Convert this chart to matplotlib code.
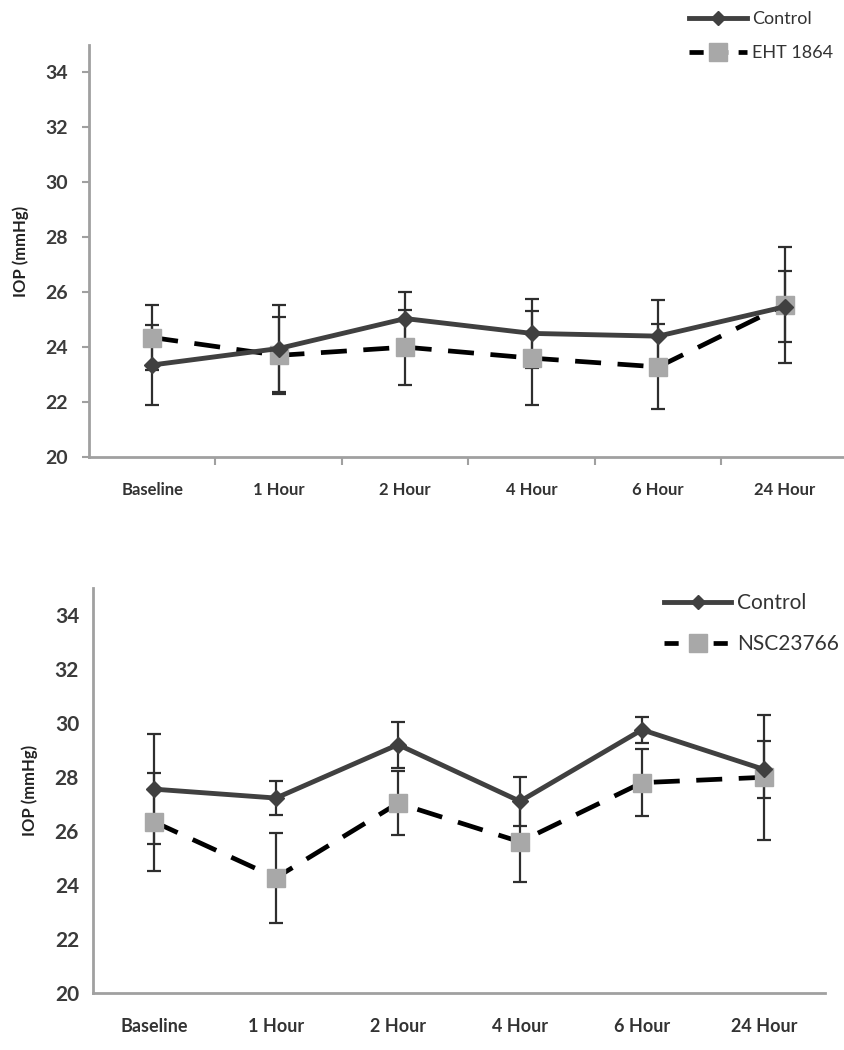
import matplotlib
matplotlib.use('Agg')
import matplotlib.pyplot as plt
from matplotlib.lines import Line2D

plt.rcParams['font.family'] = ['Lato', 'DejaVu Sans']

# category labels
timepoints = ['Baseline', '1 Hour', '2 Hour', '4 Hour', '6 Hour', '24 Hour']

# top panel: Control vs EHT 1864
ctrl_top = [23.35, 23.95, 25.04, 24.5, 24.4, 25.47]
ctrl_top_err = [1.47, 1.6, 0.95, 1.26, 1.3, 1.3]
eht = [24.35, 23.7, 24.0, 23.6, 23.28, 25.54]
eht_err = [1.17, 1.4, 1.37, 1.7, 1.55, 2.1]

# bottom panel: Control vs NSC23766
ctrl_bot = [27.55, 27.22, 29.2, 27.1, 29.75, 28.28]
ctrl_bot_err = [2.03, 0.63, 0.85, 0.9, 0.48, 1.07]
nsc = [26.34, 24.27, 27.03, 25.6, 27.79, 27.99]
nsc_err = [1.82, 1.67, 1.18, 1.5, 1.25, 2.32]

W, H = 845, 1050
fig = plt.figure(figsize=(W / 100, H / 100), dpi=100)

ctrl_col = '#404040'
sq_col = '#a8a8a8'
err_col = '#2e2e2e'
spine_col = '#a0a0a0'


def draw_panel(ax, ctrl, ctrl_err, treat, treat_err, ticks, lab_size):
    x = list(range(len(timepoints)))
    ax.errorbar(x, ctrl, yerr=ctrl_err, fmt='none', ecolor=err_col,
                elinewidth=1.6, capsize=5, capthick=1.6, zorder=2)
    ax.errorbar(x, treat, yerr=treat_err, fmt='none', ecolor=err_col,
                elinewidth=1.6, capsize=5, capthick=1.6, zorder=2)
    ax.plot(x, treat, color='black', lw=3.4, ls=(0, (5.5, 3.5)),
            marker='s', ms=13, mfc=sq_col, mec=sq_col, zorder=3)
    ax.plot(x, ctrl, color=ctrl_col, lw=3.5, marker='D', ms=8,
            mfc=ctrl_col, mec=ctrl_col, zorder=4)
    ax.set_xlim(-0.5, len(timepoints) - 0.5)
    ax.set_ylim(20, 35)
    ax.set_yticks(range(20, 35, 2))
    ax.set_xticks(x)
    ax.set_xticklabels(timepoints, fontweight='bold')
    for s in ['top', 'right']:
        ax.spines[s].set_visible(False)
    for s in ['left', 'bottom']:
        ax.spines[s].set_color(spine_col)
        ax.spines[s].set_linewidth(2)
    ax.set_ylabel('IOP (mmHg)', fontsize=12, fontweight='bold',
                  color='#222222', labelpad=12)
    ax.tick_params(axis='y', labelsize=lab_size, colors='#333333',
                   length=5 if ticks else 0, width=1.5, pad=10)
    ax.tick_params(axis='x', labelsize=lab_size - 2, colors='#333333',
                   length=0, pad=18)
    for t in ax.get_yticklabels():
        t.set_fontweight('bold')
        t.set_color('#3a3a3a')
    if ticks:
        # tick marks at category boundaries
        ax.set_xticks([i + 0.5 for i in range(len(timepoints) - 1)],
                      minor=True)
        ax.tick_params(axis='x', which='minor', length=6, width=1.5,
                       color=spine_col)
        ax.tick_params(axis='y', color=spine_col)


# top axes
ax1 = fig.add_axes([89 / W, 1 - 457 / H, 759 / W, (457 - 45) / H])
draw_panel(ax1, ctrl_top, ctrl_top_err, eht, eht_err, True, 14)

# bottom axes
ax2 = fig.add_axes([93 / W, 1 - 993 / H, 732 / W, (993 - 588) / H])
draw_panel(ax2, ctrl_bot, ctrl_bot_err, nsc, nsc_err, False, 15)


def add_legend(ax, label2, anchor, fs):
    h1 = Line2D([], [], color=ctrl_col, lw=3.5, marker='D', ms=7,
                mfc=ctrl_col, mec=ctrl_col)
    h2 = Line2D([], [], color='black', lw=3.4, ls=(0, (3.0, 2.2)),
                marker='s', ms=13, mfc=sq_col, mec=sq_col)
    leg = ax.legend([h1, h2], ['Control', label2], loc='upper left',
                    bbox_to_anchor=anchor, bbox_transform=fig.transFigure,
                    frameon=False, fontsize=fs, handlelength=3.2,
                    handletextpad=0.3, labelspacing=1.0, borderpad=0)
    for t in leg.get_texts():
        t.set_color('#333333')


add_legend(ax1, 'EHT 1864', (680 / W, 1 - 2 / H), 13)
add_legend(ax2, 'NSC23766', (654 / W, 1 - 583 / H), 15)

fig.savefig('out.png', dpi=100)
